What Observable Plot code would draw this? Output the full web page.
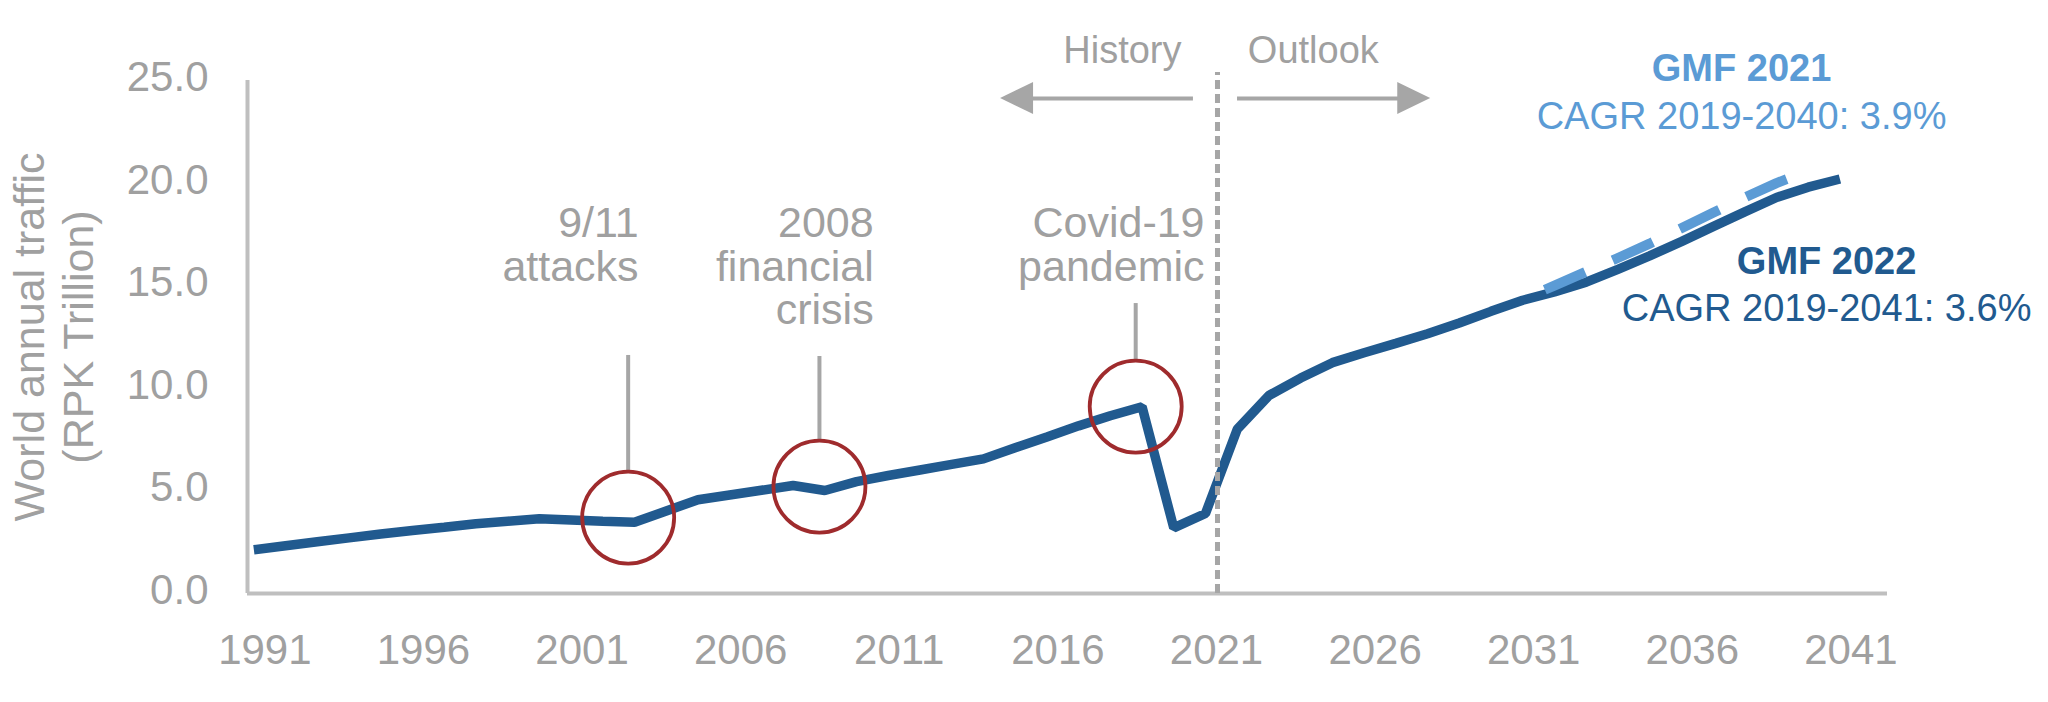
<!DOCTYPE html>
<html>
<head>
<meta charset="utf-8">
<script src="https://cdn.jsdelivr.net/npm/d3@7"></script>
<script src="https://cdn.jsdelivr.net/npm/@observablehq/plot@0.6"></script>
<style>
  html, body { margin: 0; padding: 0; background: #fff; }
  #chart svg { display: block; }
</style>
</head>
<body>
<div id="chart"></div>
<script>
// ---------- data ----------
const years = d3.range(1991, 2042);
// GMF 2022 world annual traffic (RPK trillion), history 1991-2021 + outlook to 2041
const gmf2022 = [
  2.13, 2.33, 2.52, 2.71, 2.90, 3.07, 3.23, 3.40, 3.52, 3.64,
  3.58, 3.52, 3.47, 4.02, 4.57, 4.80, 5.03, 5.26, 5.02, 5.45,
  5.75, 6.02, 6.29, 6.56, 7.10, 7.63, 8.17, 8.66, 9.10, 3.20,
  3.90, 8.00, 9.65, 10.50, 11.25, 11.73, 12.19, 12.66, 13.18, 13.75,
  14.29, 14.70, 15.17, 15.80, 16.45, 17.15, 17.88, 18.60, 19.30, 19.80,
  20.20
];
// GMF 2021 outlook (visible part)
const gmf2021Years = d3.range(2031, 2041);
const gmf2021 = [14.35, 15.00, 15.68, 16.35, 17.05, 17.80, 18.55, 19.30, 20.00, 20.60];

const xTicks = [1991, 1996, 2001, 2006, 2011, 2016, 2021, 2026, 2031, 2036, 2041];
const yTicks = [0, 5, 10, 15, 20, 25];

const eventLabels = ["9/11\nattacks", "2008\nfinancial\ncrisis", "Covid-19\npandemic"];
const eventYears = [2002.8, 2008.83, 2018.8];
const eventValues = [3.70, 5.21, 9.11];

const seriesLabels = ["GMF 2021", "GMF 2022"];
const cagrLabels = ["CAGR 2019-2040: 3.9%", "CAGR 2019-2041: 3.6%"];
const periodLabels = ["History", "Outlook"];
const yTitle = ["World annual traffic", "(RPK Trillion)"];
const divideYear = 2021;

// ---------- build tables ----------
const main = years.map((y, i) => ({year: y, value: gmf2022[i]}));
const prev = gmf2021Years.map((y, i) => ({year: y, value: gmf2021[i]}));
const events = eventLabels.map((l, i) => ({label: l, year: eventYears[i], value: eventValues[i]}));

// ---------- styles ----------
const textGray = "#a0a0a0";
const lineGray = "#a6a6a6";
const axisGray = "#bfbfbf";
const darkBlue = "#215a8f";
const lightBlue = "#5b9bd5";
const red = "#9f2b2d";
const font = "'Liberation Sans', Arial, Helvetica, sans-serif";

const arrowY = 24.12;
const headH = 0.78;

const chart = Plot.plot({
  width: 2048,
  height: 702,
  marginLeft: 247,
  marginRight: 161,
  marginTop: 80,
  marginBottom: 109,
  x: {domain: [1990.8, 2042.5]},
  y: {domain: [0, 25]},
  style: {fontFamily: font, color: textGray, background: "#fff", overflow: "visible"},
  marks: [
    Plot.axisX(xTicks, {tickSize: 0, tickPadding: 41, dx: 11, fontSize: 42, fill: textGray, tickFormat: d => String(d), label: null}),
    Plot.axisY(yTicks, {tickSize: 0, tickPadding: 39, dy: -3, fontSize: 42, fill: textGray, tickFormat: d3.format(".1f"), label: null}),
    // axis lines
    Plot.ruleY([0], {stroke: axisGray, strokeWidth: 4}),
    Plot.ruleX([1990.8], {y1: 0, y2: 25, stroke: axisGray, strokeWidth: 4}),
    // y title
    Plot.text([yTitle[0]], {frameAnchor: "left", textAnchor: "middle", dx: -217, rotate: -90, fontSize: 43, fill: textGray}),
    Plot.text([yTitle[1]], {frameAnchor: "left", textAnchor: "middle", dx: -168, rotate: -90, fontSize: 43, fill: textGray}),
    // main series
    Plot.line(main, {x: "year", y: "value", stroke: darkBlue, strokeWidth: 9.5, strokeLinejoin: "miter", strokeLinecap: "butt"}),
    // GMF 2021 dashed
    Plot.line(prev, {x: "year", y: "value", stroke: lightBlue, strokeWidth: 10, strokeDasharray: "44,30", strokeDashoffset: 50, strokeLinecap: "butt"}),
    // leader lines
    Plot.ruleX([events[0]], {x: "year", y1: 5.95, y2: 11.6, stroke: lineGray, strokeWidth: 4}),
    Plot.ruleX([events[1]], {x: "year", y1: 7.46, y2: 11.55, stroke: lineGray, strokeWidth: 4}),
    Plot.ruleX([events[2]], {x: "year", y1: 11.35, y2: 14.13, stroke: lineGray, strokeWidth: 4}),
    // event circles
    Plot.dot(events, {x: "year", y: "value", r: 46, stroke: red, strokeWidth: 3.8, fill: "none"}),
    // event labels
    Plot.text([events[0]], {x: 2003.13, y: 15.25, text: "label", textAnchor: "end", lineAnchor: "bottom", lineHeight: 1.02, fontSize: 43, fill: textGray}),
    Plot.text([events[1]], {x: 2010.54, y: 13.11, text: "label", textAnchor: "end", lineAnchor: "bottom", lineHeight: 1.02, fontSize: 43, fill: textGray}),
    Plot.text([events[2]], {x: 2020.97, y: 15.25, text: "label", textAnchor: "end", lineAnchor: "bottom", lineHeight: 1.02, fontSize: 43, fill: textGray}),
    // history / outlook divider
    Plot.ruleX([divideYear], {dx: 12, y1: 0, y2: 25.39, stroke: lineGray, strokeWidth: 5, strokeDasharray: "9,5"}),
    // arrows
    Plot.ruleY([arrowY], {x1: 2015.5, x2: 2020.62, stroke: lineGray, strokeWidth: 4}),
    Plot.areaY([{x: 2015.58, y1: arrowY - headH, y2: arrowY + headH}, {x: 2014.54, y1: arrowY, y2: arrowY}], {x: "x", y1: "y1", y2: "y2", fill: lineGray}),
    Plot.ruleY([arrowY], {x1: 2022.01, x2: 2027.15, stroke: lineGray, strokeWidth: 4}),
    Plot.areaY([{x: 2027.06, y1: arrowY - headH, y2: arrowY + headH}, {x: 2028.1, y1: arrowY, y2: arrowY}], {x: "x", y1: "y1", y2: "y2", fill: lineGray}),
    Plot.text([periodLabels[0]], {x: 2018.38, y: 25.83, lineAnchor: "bottom", fontSize: 38, fill: textGray}),
    Plot.text([periodLabels[1]], {x: 2024.4, y: 25.83, lineAnchor: "bottom", fontSize: 38, fill: textGray}),
    // series labels
    Plot.text([seriesLabels[0]], {x: 2037.9, y: 25.0, lineAnchor: "bottom", fontSize: 38, fontWeight: "bold", fill: lightBlue}),
    Plot.text([cagrLabels[0]], {x: 2037.9, y: 22.66, lineAnchor: "bottom", fontSize: 38, fill: lightBlue}),
    Plot.text([seriesLabels[1]], {x: 2040.58, y: 15.59, lineAnchor: "bottom", fontSize: 38, fontWeight: "bold", fill: darkBlue}),
    Plot.text([cagrLabels[1]], {x: 2040.58, y: 13.30, lineAnchor: "bottom", fontSize: 38, fill: darkBlue})
  ]
});
document.getElementById("chart").appendChild(chart);
</script>
</body>
</html>
